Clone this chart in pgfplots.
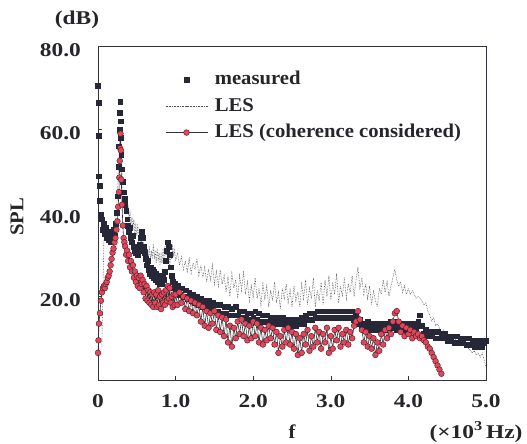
\documentclass[border=0pt]{standalone}
\usepackage{fontspec}
\setmainfont{Liberation Serif}[FakeStretch=1.06]
\newfontfamily\tickfont{Liberation Serif}[FakeStretch=1.2]
\usepackage{pgfplots}
\pgfplotsset{compat=1.18}

\definecolor{meascol}{RGB}{38,40,56}
\definecolor{lescol}{RGB}{85,85,92}
\definecolor{cohred}{RGB}{222,72,92}
\definecolor{cohedge}{RGB}{80,22,32}
\definecolor{axcol}{RGB}{50,50,60}
\definecolor{txtcol}{RGB}{38,38,42}

\begin{document}
\begin{tikzpicture}
\begin{axis}[
    name=ax,
    width=388pt, height=334pt, scale only axis,
    xmin=0, xmax=5, ymin=0, ymax=80,
    clip=false,
    axis line style={axcol, line width=0.8pt},
    tick style={axcol, line width=0.6pt},
    tick align=inside, tick pos=left,
    major tick length=4pt,
    xtick={0,1,2,3,4,5}, xticklabels={0,1.0,2.0,3.0,4.0,5.0},
    ytick={20,40,60,80}, yticklabels={20.0,40.0,60.0,80.0},
    ticklabel style={font=\fontsize{19.5}{22}\selectfont\tickfont\bfseries, text=txtcol, inner sep=0pt},
    xticklabel shift=14pt,
    yticklabel shift=17pt,
    yticklabel style={yshift=-4pt},
    legend image code/.code={\draw[mark repeat=2, mark phase=2, #1] plot coordinates {(0pt,0pt) (21pt,0pt) (42pt,0pt)};},
    legend style={
        draw=none, fill=none, inner sep=0pt,
        at={(rel axis cs:0.1727,0.93)}, anchor=north west,
        legend cell align=left,
        font=\fontsize{19.5}{22}\selectfont\bfseries,
        text=txtcol,
        row sep=6.5pt,
        nodes={inner sep=1pt, text height=14pt, text depth=4pt},
        /tikz/every odd column/.append style={column sep=6pt},
    },
]

% measured spectrum
\addplot[only marks, mark=square*, mark size=2.4pt, mark options={fill=meascol, draw=meascol}] coordinates {
(0.000,70.5) (0.004,66.5) (0.008,58.5) (0.012,48.8) (0.018,46.5) (0.025,43) (0.035,39.5) (0.05,38.5)
(0.0625,36) (0.075,37.5) (0.0875,35) (0.1,36.5) (0.1125,34) (0.125,35.5) (0.1375,33.5) (0.15,34.5)
(0.1625,33) (0.175,35) (0.1875,33.5) (0.2,36) (0.2125,34.5) (0.225,37.5) (0.2375,40) (0.25,44)
(0.2625,51) (0.27,56) (0.275,60) (0.28,64) (0.285,66.7) (0.29,62) (0.295,58) (0.30,54)
(0.31,50.5) (0.32,47.5) (0.33,45) (0.34,43.5) (0.35,42) (0.3625,40.5) (0.375,38.5) (0.3875,37)
(0.4,35.5) (0.4125,36.5) (0.425,34) (0.4375,33) (0.45,34.5) (0.4625,32) (0.475,31) (0.4875,30.5)
(0.5,31.5) (0.5125,30) (0.525,31) (0.5375,32.5) (0.55,34) (0.5625,35.5) (0.575,34) (0.5875,32)
(0.6,30.5) (0.6125,29) (0.625,27.5) (0.6375,28.5) (0.65,26.5) (0.6625,25.5) (0.675,27) (0.6875,25)
(0.7,26.5) (0.7125,24.5) (0.725,26) (0.7375,24) (0.75,25.5) (0.7625,23.5) (0.775,25) (0.7875,24)
(0.8,23) (0.8125,24.5) (0.825,23) (0.8375,25) (0.85,24) (0.8625,26) (0.875,28.5) (0.8875,31)
(0.9,33) (0.9125,32) (0.925,30) (0.9375,27) (0.95,25) (0.9625,23.5) (0.975,22) (0.9875,23) (1.0,21.5)
(1.025,22.5) (1.05,20.5) (1.075,22) (1.1,20) (1.125,21.5) (1.15,19.5) (1.175,21) (1.2,19)
(1.225,20.5) (1.25,18.5) (1.275,20) (1.3,18) (1.325,19.5) (1.35,17.5) (1.375,19) (1.4,17.5)
(1.425,19) (1.45,17) (1.475,18.5) (1.5,16.5) (1.525,18) (1.55,16.5) (1.575,18) (1.6,16)
(1.625,17.5) (1.65,16) (1.675,17.5) (1.7,15.5) (1.725,17) (1.75,15.5) (1.775,17.5) (1.8,15.5)
(1.825,16.5) (1.85,15) (1.875,16.5) (1.9,15) (1.925,16) (1.95,14.5) (1.975,16) (2.0,15)
(2.025,16.5) (2.05,14.5) (2.075,16) (2.1,14) (2.125,15.5) (2.15,14) (2.175,15.5) (2.2,13.5)
(2.225,15) (2.25,13.5) (2.275,15) (2.3,13.5) (2.325,15) (2.35,13.5) (2.375,15) (2.4,13.5)
(2.425,14.5) (2.45,13) (2.475,14.5) (2.5,13) (2.525,14.5) (2.55,13) (2.575,14.5) (2.6,13.5)
(2.625,15) (2.65,13.5) (2.675,15.5) (2.7,14.5) (2.725,16) (2.75,14.5) (2.775,16) (2.8,15)
(2.825,16.5) (2.85,15) (2.875,16.5) (2.9,15) (2.925,16.5) (2.95,15) (2.975,16.5) (3.0,15)
(3.025,16.5) (3.05,15) (3.075,16.5) (3.1,15) (3.125,16.5) (3.15,15) (3.175,16.5) (3.2,15)
(3.225,16.5) (3.25,15) (3.275,16.5) (3.3,14.5) (3.325,15.5) (3.35,13.5) (3.375,14.5) (3.4,12.5)
(3.425,13.5) (3.45,12.5) (3.475,14) (3.5,12) (3.525,13.5) (3.55,12) (3.575,13.5) (3.6,12)
(3.625,13.5) (3.65,12) (3.675,13.5) (3.7,12) (3.725,13.5) (3.75,12.5) (3.775,14) (3.8,12.5)
(3.825,14) (3.85,12) (3.875,13.5) (3.9,12) (3.925,13.5) (3.95,12) (3.975,13.5) (4.0,12)
(4.025,13.5) (4.05,12) (4.075,13.5) (4.1,12.5) (4.125,14) (4.15,15.5) (4.175,13) (4.2,11)
(4.225,12) (4.25,10.5) (4.275,11.5) (4.3,10.5) (4.325,11.5) (4.35,10) (4.375,11.5) (4.4,10)
(4.425,11) (4.45,10) (4.475,11) (4.5,9.5) (4.525,10.5) (4.55,9.5) (4.575,10.5) (4.6,9)
(4.625,10.5) (4.65,9) (4.675,10) (4.7,9) (4.725,10) (4.75,8.5) (4.775,10) (4.8,8.5)
(4.825,9.5) (4.85,8) (4.875,9.5) (4.9,8) (4.925,9.5) (4.95,8) (4.975,9) (5.0,9.5)
};
\addlegendentry{measured}

% LES
\addplot[densely dotted, color=lescol, line width=0.6pt, mark=none] coordinates {
(0.05,8) (0.0625,20) (0.075,33) (0.0875,36) (0.1,34) (0.125,35) (0.15,33) (0.175,36)
(0.2,35) (0.225,38) (0.25,44) (0.2625,50) (0.275,56) (0.285,60) (0.295,57) (0.3075,51)
(0.32,46) (0.335,44) (0.35,41) (0.3625,44) (0.375,40) (0.3875,42) (0.4,38) (0.4125,40.5)
(0.425,37) (0.4375,39) (0.45,36) (0.4625,38.5) (0.475,35) (0.4875,37) (0.5,34.5) (0.5125,37.5)
(0.525,33.5) (0.5375,35) (0.55,32) (0.5625,34) (0.575,31) (0.5875,33) (0.6,30) (0.6125,32.5)
(0.625,29.5) (0.6375,31.5) (0.65,29) (0.6625,32) (0.675,28.5) (0.6875,31) (0.7,29) (0.7125,32.5)
(0.725,29) (0.7375,31) (0.75,28) (0.7625,31.5) (0.775,28.5) (0.7875,30.5) (0.8,27.5) (0.8125,30)
(0.825,28) (0.8375,31.5) (0.85,29) (0.8625,32) (0.875,29.5) (0.8875,31) (0.9,28.5) (0.9125,30)
(0.925,27.5) (0.9375,30.5) (0.95,29) (0.9625,32.5) (0.975,29.5) (0.9875,31.5) (1.0,28.5)
(1.025,30.5) (1.05,27.5) (1.075,29.5) (1.1,26.5) (1.125,28.5) (1.15,26) (1.175,29) (1.2,25.5)
(1.225,28) (1.25,26.5) (1.275,29) (1.3,25) (1.325,27.5) (1.35,24.5) (1.375,27) (1.4,23.5)
(1.425,26.5) (1.45,24) (1.475,27.5) (1.5,23) (1.525,26) (1.55,22.5) (1.575,26.5) (1.6,23)
(1.625,25) (1.65,21) (1.675,24.5) (1.7,20) (1.725,25.5) (1.75,22) (1.775,24) (1.8,19.5)
(1.825,25) (1.85,21.5) (1.875,26) (1.9,20.5) (1.925,23.5) (1.95,19) (1.975,22.5) (2.0,20)
(2.025,24.5) (2.05,19.5) (2.075,22) (2.1,18) (2.125,23) (2.15,19.5) (2.175,22.5) (2.2,17.5)
(2.225,21.5) (2.25,19) (2.275,23.5) (2.3,18.5) (2.325,21) (2.35,17) (2.375,22) (2.4,19.5)
(2.425,23) (2.45,18.5) (2.475,21.5) (2.5,17.5) (2.525,22.5) (2.55,19) (2.575,21) (2.6,17.5)
(2.625,23) (2.65,19.5) (2.675,24) (2.7,18) (2.725,22) (2.75,19.5) (2.775,24.5) (2.8,17.5)
(2.825,21.5) (2.85,19) (2.875,23.5) (2.9,18) (2.925,24) (2.95,20) (2.975,25) (3.0,19)
(3.025,23) (3.05,20.5) (3.075,25.5) (3.1,18.5) (3.125,22.5) (3.15,20) (3.175,24.5) (3.2,19.5)
(3.225,23) (3.25,21) (3.275,25) (3.3,20) (3.325,24) (3.35,27) (3.375,22) (3.4,24.5)
(3.425,20.5) (3.45,23) (3.475,19.5) (3.5,22.5) (3.525,18) (3.55,21.5) (3.575,19) (3.6,17.5)
(3.625,22) (3.65,20.5) (3.675,24) (3.7,21) (3.725,23.5) (3.75,20) (3.775,22.5) (3.8,24.5)
(3.825,26.5) (3.85,24) (3.875,22.5) (3.9,23.5) (3.925,21) (3.95,22.5) (3.975,20.5) (4.0,22)
(4.025,20.5) (4.05,21.5) (4.075,20.5) (4.1,19.5) (4.125,20) (4.15,19.5) (4.175,19) (4.2,18)
(4.225,18.5) (4.25,16.5) (4.275,15.5) (4.3,14) (4.325,15) (4.35,13) (4.375,13.5) (4.4,12.5)
(4.425,11.5) (4.45,12) (4.475,10.5) (4.5,11) (4.525,10) (4.55,10.5) (4.575,9.5) (4.6,10)
(4.625,9) (4.65,9.5) (4.675,8.5) (4.7,9) (4.725,8) (4.75,8.5) (4.775,7.5) (4.8,7)
(4.825,6.5) (4.85,7) (4.875,6) (4.9,6.5) (4.925,5.5) (4.95,6.5) (4.975,5) (5.0,3)
};
\addlegendentry{LES}

% LES with coherence considered
\addplot[color=black!80, line width=0.6pt, mark=*, mark size=2.9pt, mark options={fill=cohred, draw=cohedge, line width=0.4pt}] coordinates {
(0.000,6.5) (0.006,9.5) (0.012,13.5) (0.025,16) (0.0375,19) (0.05,21) (0.0625,22) (0.075,22.5)
(0.0875,22) (0.1,23) (0.1125,23.5) (0.125,24.5) (0.1375,25) (0.15,26) (0.1625,27.5) (0.175,29)
(0.1875,30.5) (0.2,31.5) (0.2125,33) (0.225,34) (0.2375,36) (0.25,38) (0.26,41.5) (0.27,45)
(0.275,48.5) (0.28,52.5) (0.285,55.5) (0.29,59) (0.295,55) (0.30,48) (0.31,42) (0.32,37)
(0.33,34) (0.34,33) (0.35,32) (0.3625,30) (0.375,31) (0.3875,28.5) (0.4,30) (0.4125,27)
(0.425,28.5) (0.4375,26) (0.45,27.5) (0.4625,24.5) (0.475,26) (0.4875,23.5) (0.5,25) (0.5125,22.5)
(0.525,24.5) (0.5375,22) (0.55,25) (0.5625,23) (0.575,24) (0.5875,21) (0.6,23) (0.6125,19.5)
(0.625,22.5) (0.6375,19) (0.65,21.5) (0.6625,18.5) (0.675,21) (0.6875,18) (0.7,20.5) (0.7125,17.5)
(0.725,21) (0.7375,18.5) (0.75,20.5) (0.7625,17.5) (0.775,21.5) (0.7875,18) (0.8,20) (0.8125,17)
(0.825,20.5) (0.8375,18.5) (0.85,21) (0.8625,18) (0.875,21.5) (0.8875,19) (0.9,22.5) (0.9125,19.5)
(0.925,22) (0.9375,18.5) (0.95,20) (0.9625,17.5) (0.975,20.5) (0.9875,18) (1.0,20.5)
(1.025,18) (1.05,21) (1.075,18.5) (1.1,20) (1.125,17) (1.15,19.5) (1.175,16.5) (1.2,19)
(1.225,16) (1.25,18.5) (1.275,15.5) (1.3,18) (1.325,14) (1.35,17.5) (1.375,13) (1.4,16.5)
(1.425,12.5) (1.45,16) (1.475,13.5) (1.5,16.5) (1.525,12) (1.55,15.5) (1.575,11.5) (1.6,15)
(1.625,10.5) (1.65,14.5) (1.675,9) (1.7,13) (1.725,8) (1.75,12.5) (1.775,10) (1.8,14)
(1.825,11) (1.85,14.5) (1.875,10.5) (1.9,13.5) (1.925,9.5) (1.95,13) (1.975,10) (2.0,14)
(2.025,10.5) (2.05,13.5) (2.075,9) (2.1,12.5) (2.125,8.5) (2.15,12) (2.175,9.5) (2.2,13)
(2.225,10) (2.25,12.5) (2.275,8.5) (2.3,11.5) (2.325,6.5) (2.35,10.5) (2.375,8) (2.4,12)
(2.425,9) (2.45,12.5) (2.475,8.5) (2.5,11.5) (2.525,7.5) (2.55,11) (2.575,6) (2.6,10)
(2.625,6.5) (2.65,11) (2.675,8.5) (2.7,12) (2.725,7) (2.75,10.5) (2.775,8) (2.8,12.5)
(2.825,9) (2.85,11.5) (2.875,7.5) (2.9,11) (2.925,9) (2.95,12.5) (2.975,6.5) (3.0,10.5)
(3.025,7.5) (3.05,12) (3.075,9.5) (3.1,12.5) (3.125,8) (3.15,11) (3.175,9) (3.2,12)
(3.225,8.5) (3.25,11.5) (3.275,10) (3.3,13) (3.325,14) (3.35,16.5) (3.375,14.5) (3.4,12)
(3.425,9) (3.45,11.5) (3.475,8) (3.5,10.5) (3.525,7.5) (3.55,10) (3.575,6) (3.6,9)
(3.625,7) (3.65,11) (3.675,8.5) (3.7,12) (3.725,10) (3.75,12.5) (3.775,11) (3.8,14)
(3.825,16) (3.85,16.5) (3.875,14) (3.9,11.5) (3.925,13) (3.95,10.5) (3.975,12.5) (4.0,11)
(4.025,12) (4.05,10) (4.075,11.5) (4.1,10.5) (4.125,11) (4.15,10) (4.175,10.5) (4.2,9.5)
(4.225,9) (4.25,8) (4.275,7.5) (4.3,6.5) (4.325,5.5) (4.35,4.5) (4.375,3.5) (4.4,2.5) (4.425,1.5)
};
\addlegendentry{LES (coherence considered)}

\node[font=\fontsize{19.5}{22}\selectfont\tickfont\bfseries, text=txtcol, anchor=center]
    at (rel axis cs:0,1) [xshift=-21pt, yshift=26pt] {(dB)};
\node[font=\fontsize{19.5}{22}\selectfont\tickfont\bfseries, text=txtcol, anchor=center]
    at (rel axis cs:1,0) [xshift=-10pt, yshift=-52pt] {(×10\textsuperscript{3}\,Hz)};
\node[font=\fontsize{19.5}{22}\selectfont\bfseries, text=txtcol, anchor=center, inner sep=0pt]
    at (rel axis cs:0.5,0) [yshift=-52pt] {f};
\node[font=\fontsize{19.5}{22}\selectfont\bfseries, text=txtcol, anchor=center, inner sep=0pt]
    at (rel axis cs:0,0.5) [xshift=-81pt, yshift=-4pt, rotate=90] {SPL};
\end{axis}
\pgfresetboundingbox
\path[use as bounding box] ([xshift=-98pt,yshift=-63pt]ax.south west) rectangle ([xshift=41pt,yshift=46pt]ax.north east);
\end{tikzpicture}
\end{document}
